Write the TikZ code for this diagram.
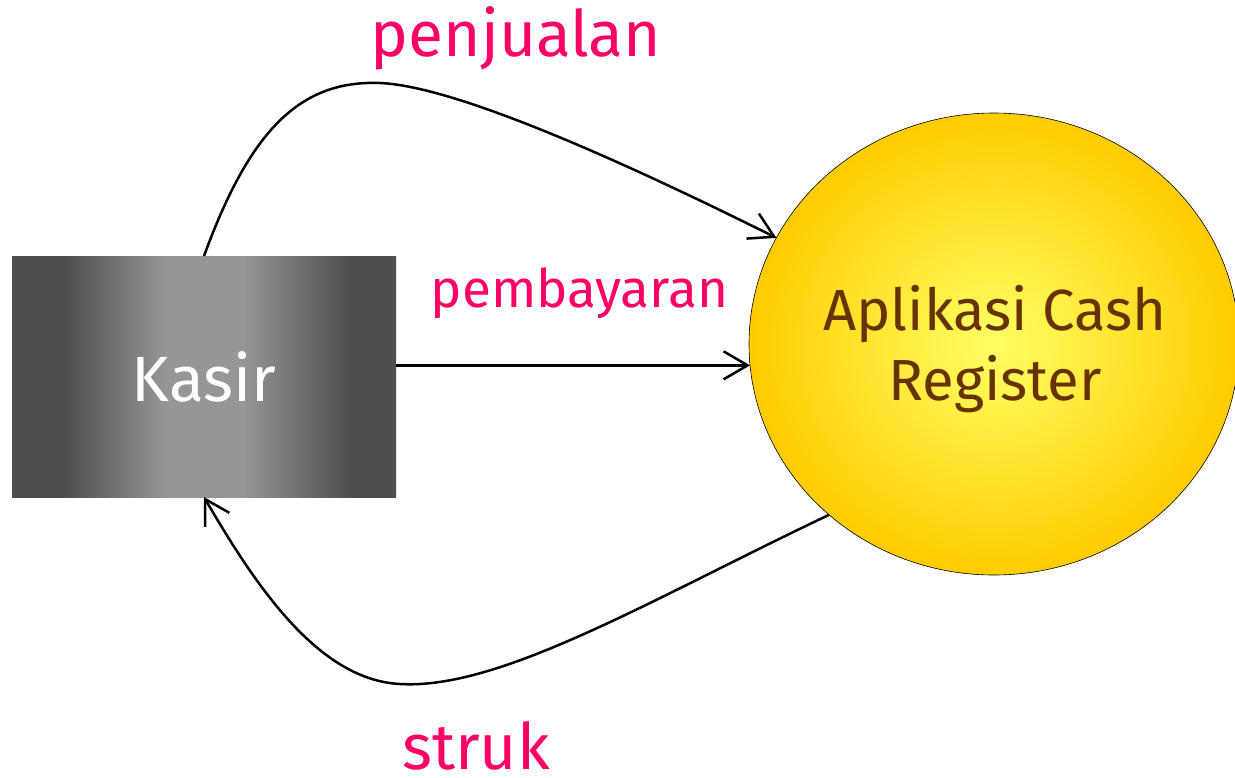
\documentclass[tikz,border=0pt]{standalone}
\usepackage{fontspec}
\setmainfont{Fira Sans}
\usetikzlibrary{shapes.geometric,arrows.meta}
\definecolor{lbl}{RGB}{255,0,102}
\definecolor{brn}{RGB}{102,51,0}
\definecolor{edgegray}{RGB}{78,78,78}
\definecolor{midgray}{RGB}{150,150,150}
\definecolor{yin}{RGB}{255,255,102}
\definecolor{yout}{RGB}{255,204,0}
\pgfdeclarehorizontalshading{kasirshade}{100bp}{color(0bp)=(edgegray); color(25bp)=(edgegray); color(32bp)=(edgegray); color(45bp)=(midgray); color(55bp)=(midgray); color(69bp)=(edgegray); color(75bp)=(edgegray); color(100bp)=(edgegray)}
\tikzset{
  flow/.style={line width=2.5pt, -{Straight Barb[length=24pt,width=28pt,line width=2.5pt]}},
  flowlbl/.style={text=lbl, anchor=base, inner sep=0pt},
  entitybox/.style={rectangle, minimum width=384pt, minimum height=241pt, inner sep=0pt, outer sep=0pt,
    shading=kasirshade, text=white, font=\fontsize{64}{76}\selectfont},
  procbub/.style={ellipse, minimum width=490pt, minimum height=462pt, inner sep=0pt, outer sep=0pt,
    inner color=yin, outer color=yout, draw=black, line width=0.6pt},
  proctext/.style={text=brn, anchor=base, inner sep=0pt, font=\fontsize{58}{70}\selectfont}
}
\begin{document}
\begin{tikzpicture}[x=1pt,y=-1pt]
\useasboundingbox (0,0) rectangle (1235,777);
\node[entitybox] (kasir) at (204,376.5) {Kasir};
\node[procbub] (cr) at (994,344) {};
\node[proctext] (t1) at (995,330) {Aplikasi Cash};
\node[proctext] (t2) at (995,400) {Register};
% penjualan
\draw[flow] (kasir.north) .. controls (250,130) and (300,80) .. (380,83)
  .. controls (450,86) and (600,150) .. (cr.154);
% pembayaran
\draw[flow] (kasir.east |- cr.185.5) -- (cr.185.5);
% struk
\draw[flow] (cr.226) .. controls (650,600) and (500,690) .. (400,684)
  .. controls (320,680) and (258,590) .. (kasir.south);
\node[flowlbl, font=\fontsize{64}{76}\selectfont] (l1) at (516,56) {penjualan};
\node[flowlbl, font=\fontsize{53}{63}\selectfont] (l2) at (579.5,307) {pembayaran};
\node[flowlbl, font=\fontsize{64}{76}\selectfont] (l3) at (476,769) {struk};
\end{tikzpicture}
\end{document}
